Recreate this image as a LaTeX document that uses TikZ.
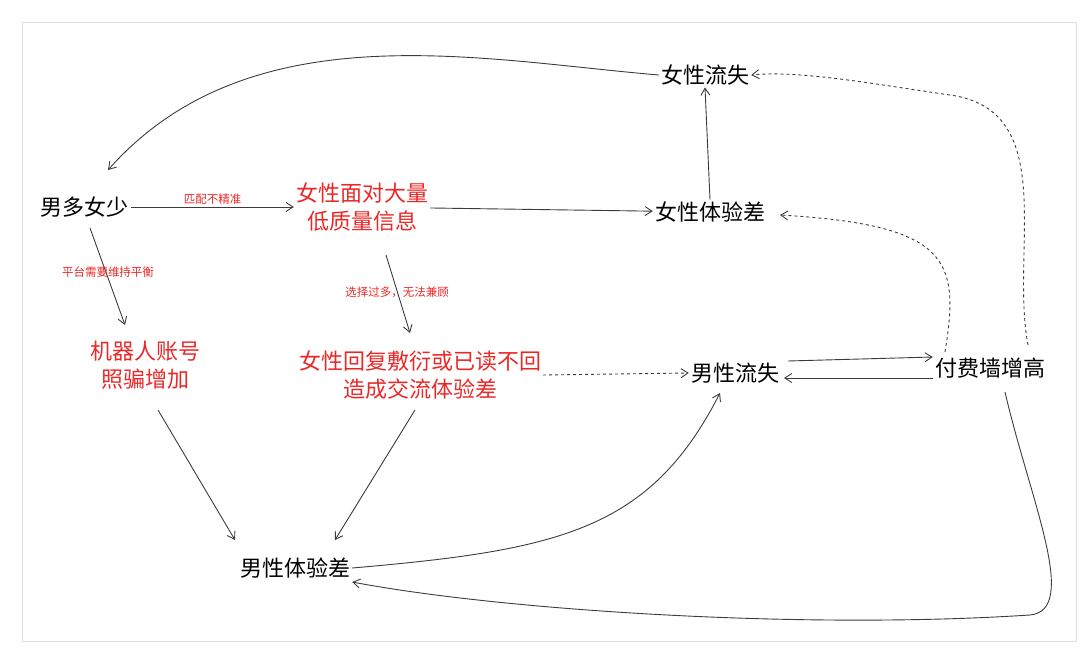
\documentclass[tikz,border=0pt]{standalone}
\usepackage{fontspec}
\setmainfont{Noto Sans CJK SC}
\usetikzlibrary{arrows.meta}
\definecolor{redtxt}{RGB}{235,40,40}
\definecolor{linegray}{RGB}{60,60,60}
\tikzset{
  lbl/.style={font=\fontsize{22}{28}\selectfont, align=center, inner sep=2pt},
  redlbl/.style={lbl, text=redtxt},
  note/.style={font=\fontsize{11.5}{13}\selectfont, text=redtxt},
  arr/.style={draw=linegray, line width=0.9pt, -{Straight Barb[length=7pt,width=9pt]}},
  dasharr/.style={arr, dashed}
}
\begin{document}
\begin{tikzpicture}[x=1pt,y=-1pt]
\useasboundingbox (0,0) rectangle (1080,653);
\draw[gray!25, line width=1pt] (22,22) rectangle (1076,641);
% nodes
\node[lbl] (mf) at (85,207) {男多女少};
\node[redlbl] (wl) at (362,207) {女性面对大量\\低质量信息};
\node[lbl] (wbad) at (710,212) {女性体验差};
\node[lbl] (wlost) at (705,75) {女性流失};
\node[redlbl] (bot) at (145,365) {机器人账号\\照骗增加};
\node[redlbl] (wreply) at (420,375) {女性回复敷衍或已读不回\\造成交流体验差};
\node[lbl] (mlost) at (735,373) {男性流失};
\node[lbl] (pay) at (990,368) {付费墙增高};
\node[lbl] (mbad) at (295,568) {男性体验差};
% edges
\draw[arr] (mf) -- node[note, above=-1pt] {匹配不精准} (wl);
\draw[arr] (90,228) -- (125,325);
\node[note] at (108,272) {平台需要维持平衡};
\draw[arr] (wl) -- (wbad);
\draw[arr] (wbad.north) -- (wlost.south);
\draw[arr] (wlost.west) .. controls (480,60) and (250,10) .. (108,170);
\draw[arr] (386,255) -- (410,333);
\node[note] at (397,292) {选择过多，无法兼顾};
\draw[dasharr] (wreply.east) -- (mlost.west);
\draw[arr] (158,410) -- (235,540);
\draw[arr] (415,410) -- (335,540);
\draw[arr] (mbad.east) .. controls (560,550) and (650,530) .. (720,393);
\draw[arr] (788,361) -- (pay.west |- 0,357);
\draw[arr] (pay.west |- 0,378) -- (784,378);
\draw[dasharr] (945,352) .. controls (960,260) and (950,225) .. (780,215);
\draw[dasharr] (1028,345) .. controls (1010,250) and (1060,110) .. (950,95)
  .. controls (880,85) and (800,70) .. (wlost.east);
\draw[arr] (1005,392) .. controls (1030,500) and (1080,610) .. (1030,615)
  .. controls (800,630) and (500,610) .. (mbad.east |- 0,582);
\end{tikzpicture}
\end{document}
